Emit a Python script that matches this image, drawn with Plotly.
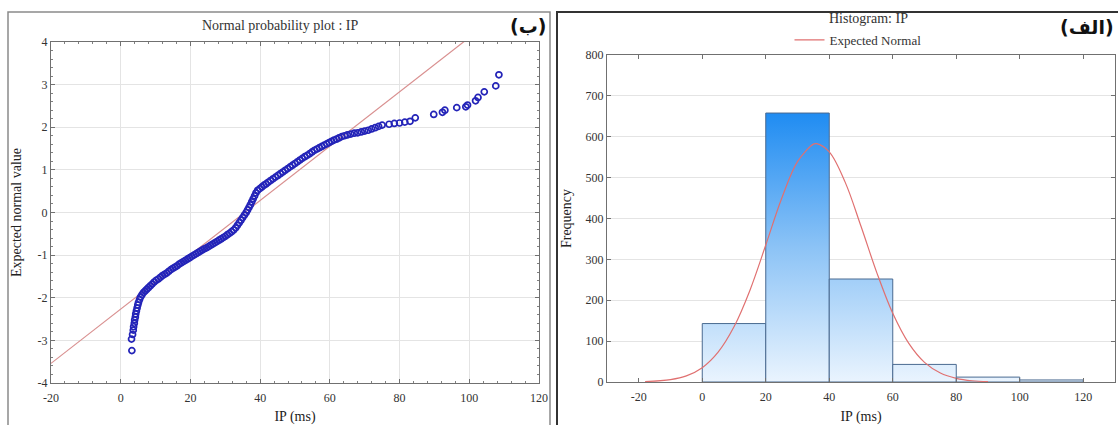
import plotly.graph_objects as go

W, H = 1118, 425

# ---------------- data: normal probability plot (left) ----------------
ip_ms = [3.2, 3.1, 3.4, 3.6, 3.7, 3.9, 4.0, 4.2, 4.3, 4.5, 4.7, 4.9, 5.1, 5.4, 5.7,
         6.1, 6.5, 7.0, 7.5, 8.0, 8.5, 9.0, 9.6, 10.2, 10.8, 11.4, 12.0, 12.6, 13.2,
         13.8, 14.4, 15.0, 15.6, 16.2, 16.8, 17.4, 18.0, 18.6, 19.2, 19.8, 20.4, 21.0,
         21.6, 22.2, 22.8, 23.4, 24.0, 24.6, 25.2, 25.8, 26.4, 27.0, 27.6, 28.2, 28.8,
         29.4, 30.0, 30.6, 31.2, 31.8, 32.4, 33.0, 33.5, 34.0, 34.5, 35.0, 35.5, 36.0,
         36.4, 36.8, 37.2, 37.6, 38.0, 38.4, 38.8, 39.3, 39.9, 40.5, 41.1, 41.7, 42.3,
         43.0, 43.7, 44.4, 45.1, 45.8, 46.5, 47.2, 47.9, 48.6, 49.3, 50.0, 50.7, 51.4,
         52.1, 52.8, 53.5, 54.2, 54.9, 55.6, 56.3, 57.0, 57.7, 58.4, 59.1, 59.8, 60.5,
         61.2, 61.9, 62.6, 63.4, 64.2, 65.0, 66.0, 67.0, 68.0, 69.0, 70.0, 71.0, 72.0,
         73.0, 74.0, 75.0, 77.0, 78.5, 80.0, 81.5, 83.0, 84.5, 89.8, 92.3, 93.0, 96.4,
         99.0, 99.5, 101.8, 102.5, 104.3, 107.6, 108.5]
expected_z = [-3.24, -2.97, -2.86, -2.76, -2.68, -2.60, -2.52, -2.45, -2.38, -2.31, -2.24,
              -2.17, -2.11, -2.04, -1.98, -1.93, -1.88, -1.84, -1.80, -1.76, -1.72, -1.68,
              -1.63, -1.59, -1.56, -1.52, -1.48, -1.45, -1.42, -1.38, -1.34, -1.31, -1.28,
              -1.25, -1.21, -1.18, -1.15, -1.12, -1.09, -1.06, -1.03, -1.00, -0.97, -0.94,
              -0.91, -0.88, -0.85, -0.83, -0.80, -0.77, -0.74, -0.71, -0.68, -0.65, -0.62,
              -0.59, -0.56, -0.52, -0.49, -0.45, -0.41, -0.36, -0.30, -0.24, -0.18, -0.12,
              -0.06, 0.00, 0.06, 0.12, 0.18, 0.25, 0.32, 0.39, 0.46, 0.52, 0.56, 0.60, 0.64,
              0.67, 0.71, 0.75, 0.79, 0.83, 0.87, 0.91, 0.95, 0.99, 1.03, 1.07, 1.11, 1.15,
              1.19, 1.23, 1.27, 1.31, 1.34, 1.38, 1.42, 1.46, 1.49, 1.52, 1.55, 1.58, 1.61,
              1.64, 1.67, 1.70, 1.72, 1.75, 1.78, 1.80, 1.82, 1.84, 1.86, 1.87, 1.89, 1.91,
              1.93, 1.96, 1.99, 2.02, 2.05, 2.07, 2.09, 2.10, 2.12, 2.14, 2.22, 2.30, 2.35,
              2.40, 2.46, 2.48, 2.52, 2.62, 2.70, 2.83, 2.97, 3.23]
ref_line_x = [-20, 120]
ref_line_z = [-3.54, 5.38]
left_xticks = [-20, 0, 20, 40, 60, 80, 100, 120]
left_yticks = [-4, -3, -2, -1, 0, 1, 2, 3, 4]

# ---------------- data: histogram (right) ----------------
bin_left = [0, 20, 40, 60, 80, 100]
bin_width = 20
counts = [143, 658, 252, 43, 12, 5]
normal_x = [-18, -10, -5, 0, 5, 10, 15, 20, 25, 30, 35, 36, 40, 45, 50, 55, 60, 65, 70,
            75, 80, 85, 90]
normal_y = [1, 6, 15, 35, 73, 135, 224, 335, 449, 539, 582, 583, 563, 489, 381, 267, 168,
            95, 48, 22, 9, 3, 1]
right_xticks = [-20, 0, 20, 40, 60, 80, 100, 120]
right_yticks = [0, 100, 200, 300, 400, 500, 600, 700, 800]

# ---------------- figure ----------------
SERIF = "Liberation Serif, Times New Roman, serif"
fig = go.Figure()

fig.add_trace(go.Scatter(x=ref_line_x, y=ref_line_z, mode="lines",
                         line=dict(color="#d99090", width=1.2),
                         xaxis="x", yaxis="y", showlegend=False, hoverinfo="skip"))
fig.add_trace(go.Scatter(x=ip_ms, y=expected_z, mode="markers",
                         marker=dict(symbol="circle-open", size=6, color="#2424b8",
                                     line=dict(width=1.7, color="#2424b8")),
                         xaxis="x", yaxis="y", showlegend=False))

for left, c in zip(bin_left, counts):
    r = left + bin_width
    fig.add_trace(go.Scatter(
        x=[left, left, r, r, left], y=[0, c, c, 0, 0],
        mode="lines", fill="toself",
        fillgradient=dict(type="vertical", start=0, stop=max(counts),
                          colorscale=[[0, "#eaf4fe"], [0.5, "#8cc3f6"], [1, "#1f8cf2"]]),
        line=dict(color="#4a6a90", width=1),
        xaxis="x2", yaxis="y2", showlegend=False, hoverinfo="skip"))

fig.add_trace(go.Scatter(x=normal_x, y=normal_y, mode="lines", name="Expected Normal",
                         line=dict(color="#e07070", width=1.2, shape="spline"),
                         xaxis="x2", yaxis="y2", showlegend=True))

axis_common = dict(showline=True, linecolor="#707070", linewidth=1, mirror="ticks",
                   ticks="inside", ticklen=4, tickcolor="#707070",
                   tickfont=dict(family=SERIF, size=12, color="#333333"),
                   zeroline=False, automargin=False,
                   title_font=dict(family=SERIF, size=14, color="#222222"))


def labels(vals):
    return [str(v) for v in vals]


fig.update_layout(
    width=W, height=H,
    margin=dict(l=0, r=0, t=0, b=0, autoexpand=False),
    paper_bgcolor="white", plot_bgcolor="white",
    xaxis=dict(domain=[51 / W, 539 / W], range=[-20, 120],
               tickvals=left_xticks, ticktext=labels(left_xticks), ticklabelstandoff=4,
               showgrid=True, gridcolor="#e4e4e4",
               minor=dict(dtick=4, ticks="inside", ticklen=2, tickcolor="#808080", showgrid=False),
               title=dict(text="IP (ms)", standoff=9), anchor="y", **axis_common),
    yaxis=dict(domain=[1 - 383 / H, 1 - 42 / H], range=[-4, 4],
               tickvals=left_yticks, ticktext=labels(left_yticks),
               showgrid=True, gridcolor="#e4e4e4",
               minor=dict(dtick=0.2, ticks="inside", ticklen=2, tickcolor="#808080", showgrid=False),
               title=dict(text="Expected normal value", standoff=12), anchor="x", **axis_common),
    xaxis2=dict(domain=[607 / W, 1115 / W], range=[-30, 130],
                tickvals=right_xticks, ticktext=labels(right_xticks), ticklabelstandoff=4,
                showgrid=False, title=dict(text="IP (ms)", standoff=9), anchor="y2", **axis_common),
    yaxis2=dict(domain=[1 - 382 / H, 1 - 55 / H], range=[0, 800],
                tickvals=right_yticks, ticktext=labels(right_yticks),
                showgrid=True, gridcolor="#e4e4e4",
                title=dict(text="Frequency", standoff=10), anchor="x2", **axis_common),
    legend=dict(x=858 / W, y=1 - 40 / H, xanchor="center", yanchor="middle",
                orientation="h", bgcolor="rgba(0,0,0,0)",
                font=dict(family=SERIF, size=13, color="#333333"),
                itemwidth=30, tracegroupgap=0),
    annotations=[
        dict(text="Normal probability plot : IP", x=280 / W, y=1 - 26 / H, xref="paper", yref="paper",
             xanchor="center", yanchor="middle",
             showarrow=False, font=dict(family=SERIF, size=14, color="#333333")),
        dict(text="Histogram: IP", x=868 / W, y=1 - 18 / H, xref="paper", yref="paper",
             xanchor="center", yanchor="middle",
             showarrow=False, font=dict(family=SERIF, size=14, color="#333333")),
        dict(text="(ب)", x=528 / W, y=1 - 26 / H, xref="paper", yref="paper",
             xanchor="center", yanchor="middle", showarrow=False,
             font=dict(family="DejaVu Sans", size=19, color="#111111", weight="bold")),
        dict(text="(الف)", x=1087 / W, y=1 - 27 / H, xref="paper", yref="paper",
             xanchor="center", yanchor="middle", showarrow=False,
             font=dict(family="DejaVu Sans", size=19, color="#111111", weight="bold")),
    ],
    shapes=[
        dict(type="rect", xref="paper", yref="paper", x0=8 / W, x1=550 / W, y0=-0.05, y1=1 - 12 / H,
             line=dict(color="#8a8a8a", width=1.5), layer="below"),
        dict(type="rect", xref="paper", yref="paper", x0=557 / W, x1=1.02, y0=-0.05, y1=1 - 12 / H,
             line=dict(color="#333333", width=2), layer="below"),
    ],
)

fig.write_html("out.html", config={"displayModeBar": False},
               post_script="document.body.style.margin='0';document.body.style.padding='0';")
